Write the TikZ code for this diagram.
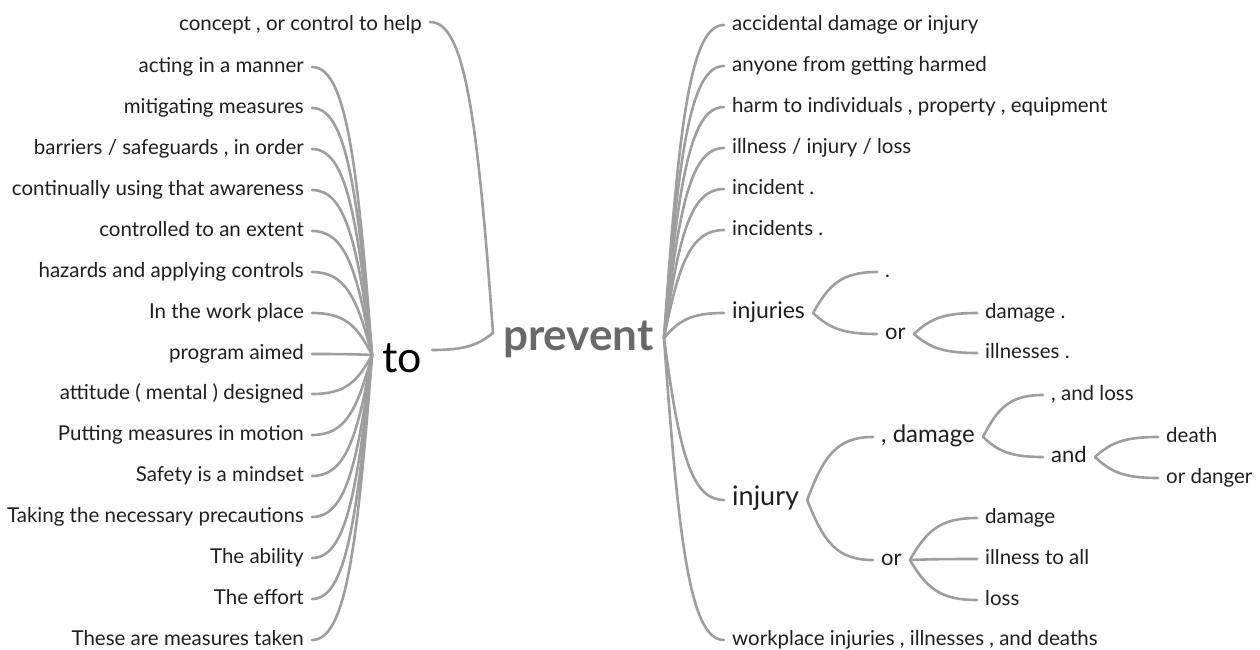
\documentclass[tikz,border=0pt]{standalone}
\usepackage{fontspec}
\setmainfont{Lato}
\usetikzlibrary{calc}
\definecolor{linkgray}{RGB}{158,158,158}
\definecolor{textdark}{RGB}{30,30,30}
\definecolor{hubgray}{RGB}{105,105,105}
\tikzset{
    leaf/.style={
        inner xsep=8pt, inner ysep=2pt,
        font=\fontsize{20.5}{24}\selectfont, text=textdark
    },
    leafl/.style={leaf, anchor=mid east},
    leafr/.style={leaf, anchor=mid west},
    sub/.style={leafr, font=\fontsize{#1}{#1}\selectfont},
    hub/.style={inner xsep=10pt, anchor=base west, font=\fontsize{#1}{#1}\selectfont},
    link/.style={draw=linkgray, line width=2.6pt, line cap=round}
}
\newcommand\branch[2]{\draw[link] let \p1=#1, \p2=#2 in
    (\p1) .. controls ({\x1+0.25*(\x2-\x1)},{\y1+0.7*(\y2-\y1)}) and ({\x1+0.45*(\x2-\x1)},\y2) .. (\p2);}

\begin{document}
\fontsize{20.5}{24}\selectfont
\begin{tikzpicture}[x=1pt, y=-1pt]
    \useasboundingbox (0,0) rectangle (1260,650);

    % Hubs
    \node[hub=44, text=hubgray] (prevent) at (493,350) {\bfseries prevent};
    \node[hub=43, text=black] (to) at (372,372) {to};
    \node[leafl] (concept) at (430,25) {concept , or control to help};

    % Left side
    \node[leafl] (acting) at (312,67) {acting in a manner};
    \node[leafl] (mitigating) at (312,108) {mitigating measures};
    \node[leafl] (barriers) at (312,149) {barriers / safeguards , in order};
    \node[leafl] (continually) at (312,190) {continually using that awareness};
    \node[leafl] (controlled) at (312,231) {controlled to an extent};
    \node[leafl] (hazards) at (312,272) {hazards and applying controls};
    \node[leafl] (inplace) at (312,313) {In the work place};
    \node[leafl] (program) at (312,354) {program aimed};
    \node[leafl] (attitude) at (312,394) {attitude ( mental ) designed};
    \node[leafl] (putting) at (312,435) {Putting measures in motion};
    \node[leafl] (safety) at (312,476) {Safety is a mindset};
    \node[leafl] (taking) at (312,517) {Taking the necessary precautions};
    \node[leafl] (ability) at (312,558) {The ability};
    \node[leafl] (effort) at (312,599) {The effort};
    \node[leafl] (these) at (312,640) {These are measures taken};

    % Right side
    \node[leafr] (accidental) at (724,25) {accidental damage or injury};
    \node[leafr] (anyone) at (724,66) {anyone from getting harmed};
    \node[leafr] (harm) at (724,107) {harm to individuals , property , equipment};
    \node[leafr] (illness) at (724,148) {illness / injury / loss};
    \node[leafr] (incident) at (724,189) {incident .};
    \node[leafr] (incidents) at (724,230) {incidents .};
    \node[sub=23] (injuries) at (724,313) {injuries};
    \node[sub=27] (injury) at (724,500) {injury};
    \node[leafr] (wpinj) at (724,640) {workplace injuries , illnesses , and deaths};

    % injuries branch
    \node[leafr] (dot) at (877,272) {.};
    \node[sub=22] (or1) at (877,334) {or};
    \node[leafr] (damage1) at (977,313) {damage .};
    \node[leafr] (illnesses) at (977,353) {illnesses .};

    % injury branch
    \node[sub=24] (cdamage) at (873,437) {, damage};
    \node[sub=22] (or2) at (873,560) {or};
    \node[leafr] (andloss) at (1043,395) {, and loss};
    \node[sub=22] (and) at (1043,457) {and};
    \node[leafr] (death) at (1158,437) {death};
    \node[leafr] (danger) at (1158,478) {or danger};
    \node[leafr] (damage2) at (977,518) {damage};
    \node[leafr] (illall) at (977,559) {illness to all};
    \node[leafr] (loss) at (977,600) {loss};

    % Links: left
    \branch{([yshift=17pt]prevent.base west)}{([yshift=3pt]concept.mid east)}
    \branch{([yshift=17pt]prevent.base west)}{([yshift=22pt]to.base east)}
    \foreach \kid in {acting,mitigating,barriers,continually,controlled,hazards,inplace,program,
                    attitude,putting,safety,taking,ability,effort,these}
        \branch{([yshift=17pt]to.base west)}{(\kid.mid east)};

    % Links: right
    \foreach \kid in {accidental,anyone,harm,illness,incident,incidents,injuries,injury,wpinj}
        \branch{([yshift=12pt]prevent.base east)}{(\kid.mid west)};
    \branch{(injuries.mid east)}{(dot.mid west)}
    \branch{(injuries.mid east)}{(or1.mid west)}
    \branch{(or1.mid east)}{(damage1.mid west)}
    \branch{(or1.mid east)}{(illnesses.mid west)}
    \branch{(injury.mid east)}{(cdamage.mid west)}
    \branch{(injury.mid east)}{(or2.mid west)}
    \branch{(cdamage.mid east)}{(andloss.mid west)}
    \branch{(cdamage.mid east)}{(and.mid west)}
    \branch{(and.mid east)}{(death.mid west)}
    \branch{(and.mid east)}{(danger.mid west)}
    \branch{(or2.mid east)}{(damage2.mid west)}
    \branch{(or2.mid east)}{(illall.mid west)}
    \branch{(or2.mid east)}{(loss.mid west)}

\end{tikzpicture}
\end{document}
